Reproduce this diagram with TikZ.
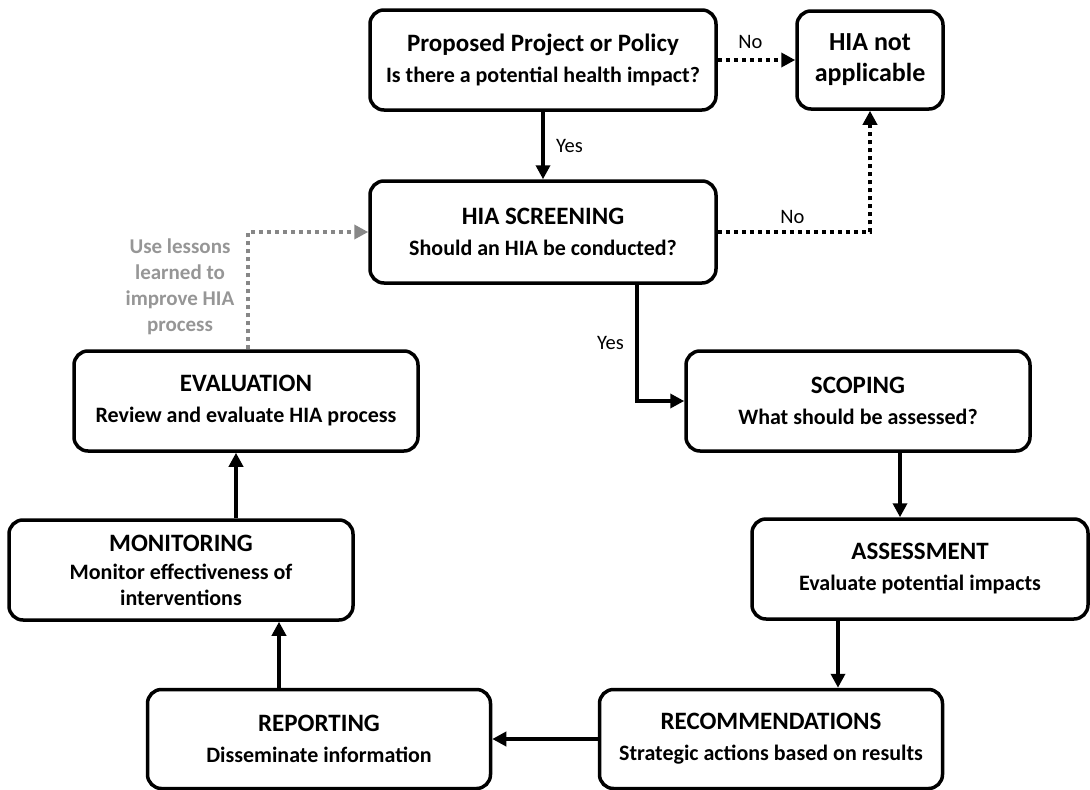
\documentclass[tikz,border=0pt]{standalone}
\usepackage{fontspec}
\setmainfont{Carlito}
\usetikzlibrary{arrows.meta}

\definecolor{lessongray}{RGB}{150,150,150}
\definecolor{linegray}{RGB}{135,135,135}
\newcommand{\ttl}[1]{{\fontsize{25}{30}\selectfont #1}\\[5pt]}

\tikzset{
  stage/.style={draw, line width=3.5pt, rounded corners=14pt, align=center,
    inner sep=0pt, minimum width=344pt, minimum height=100pt,
    font=\bfseries\fontsize{22}{26}\selectfont},
  answer/.style={font=\fontsize{20.5}{24}\selectfont},
  flow/.style={->, line width=3.5pt},
  nope/.style={->, line width=3.5pt, dash pattern=on 4.5pt off 3.5pt},
  feedback/.style={->, line width=3.5pt, linegray, dash pattern=on 4.5pt off 3.5pt},
  >={Triangle[length=14pt,width=14pt]}
}

\begin{document}
\begin{tikzpicture}[x=1pt,y=-1pt]
\useasboundingbox (0,0) rectangle (1090,790);

\node[stage, minimum width=346pt] (prop) at (543,60) {\ttl{Proposed Project or Policy}Is there a potential health impact?};
\node[stage, minimum width=146pt, minimum height=98pt, font=\bfseries\fontsize{26}{31}\selectfont] (notapp) at (870,60) {HIA not\\applicable};
\node[stage, minimum width=346pt, minimum height=102pt] (screen) at (543,232) {\ttl{HIA SCREENING}Should an HIA be conducted?};
\node[stage] (scope) at (858,401) {\ttl{SCOPING}What should be assessed?};
\node[stage, minimum width=336pt] (assess) at (920,569) {\ttl{ASSESSMENT}Evaluate potential impacts};
\node[stage, minimum width=343pt, minimum height=99pt] (recom) at (771,739) {\ttl{RECOMMENDATIONS}Strategic actions based on results};
\node[stage, minimum width=343pt, minimum height=99pt] (report) at (319,739) {\ttl{REPORTING}Disseminate information};
\node[stage] (monitor) at (181,570) {{\fontsize{25}{30}\selectfont MONITORING}\\[2pt]Monitor effectiveness of\\interventions};
\node[stage] (eval) at (246,401) {\ttl{EVALUATION}Review and evaluate HIA process};

\node[font=\bfseries\fontsize{21}{26}\selectfont, lessongray, align=center] (lessons) at (180,287) {Use lessons\\learned to\\improve HIA\\process};

\draw[flow] (prop) -- node[answer, right=8pt] {Yes} (screen);
\draw[nope] (prop) -- node[answer, above=6pt, pos=0.42] {No} (notapp);
\draw[nope] (screen) -| node[answer, above=3pt, pos=0.245] {No} (notapp);
\draw[flow] ([xshift=94pt]screen.south) |- node[answer, left=8pt, pos=0.25] {Yes} (scope.west);
\draw[flow] ([xshift=42pt]scope.south) -- ([xshift=-20pt]assess.north);
\draw[flow] ([xshift=-82pt]assess.south) -- ([xshift=67pt]recom.north);
\draw[flow] (recom) -- (report);
\draw[flow] ([xshift=-40pt]report.north) -- ([xshift=98pt]monitor.south);
\draw[flow] ([xshift=55pt]monitor.north) -- ([xshift=-10pt]eval.south);
\draw[feedback] ([xshift=2pt]eval.north) |- (screen.west);
\end{tikzpicture}
\end{document}
